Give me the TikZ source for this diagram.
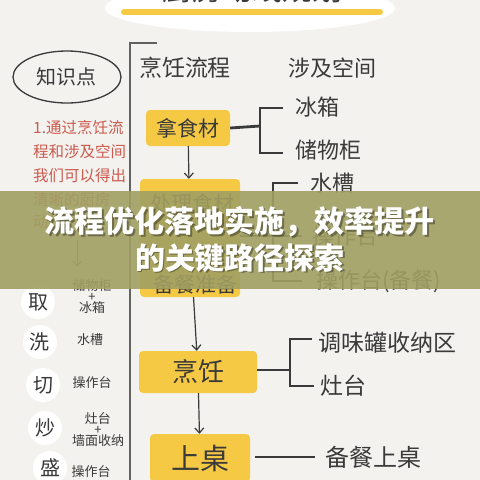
\documentclass[tikz,border=0pt]{standalone}
\usepackage{fontspec}
\setmainfont{Noto Sans CJK SC}
\usetikzlibrary{arrows.meta}
\definecolor{paper}{HTML}{F3F2EF}
\definecolor{ink}{HTML}{3A3A3A}
\definecolor{marker}{HTML}{F6C945}
\definecolor{redink}{HTML}{CC5A4E}
\definecolor{banner}{HTML}{A19F63}
\newcommand{\fs}[1]{\fontsize{#1}{#1}\selectfont}
\tikzset{
  swatch/.style={fill=marker, rounded corners=4pt, text=ink, inner sep=0pt},
  bar/.style={ink, line width=2.8pt},
  down/.style={ink, line width=1.2pt, -{Straight Barb[length=5pt,width=9pt]}},
  verb/.style={circle, fill=white, minimum size=34pt, inner sep=0pt, text=ink, font=\fs{20}},
  tag/.style={text=ink, font=\fs{13}, align=center, inner sep=0pt},
  space/.style={text=ink, font=\fs{22}, anchor=west, inner sep=0pt},
  note/.style={text=redink, font=\fs{15.5}, anchor=west, inner sep=0pt}
}
\begin{document}
\begin{tikzpicture}[x=1pt,y=-1pt]
  \clip (0,0) rectangle (480,480);
  \fill[paper] (0,0) rectangle (480,480);
  % title
  \fill[white] (250,8) ellipse (145 and 24);
  \node[text=ink, font=\fs{30}] (title) at (252,-11) {厨房动线规划};
  \draw[marker, line width=6pt, line cap=round] (124,12) -- (380,12);
  % margin line
  \draw[ink!80, line width=1.2pt] (157,43) -- (130,43) -- (130,480);
  % left column
  \draw[ink, line width=1.3pt] (67,77) ellipse (54 and 26);
  \node[text=ink, font=\fs{20}] (kp) at (66,77) {知识点};
  \node[note] (n1) at (33,128) {1.通过烹饪流};
  \node[note] (n2) at (33,152) {程和涉及空间};
  \node[note] (n3) at (33,176) {我们可以得出};
  \node[note] (n4) at (33,200) {清晰的厨房};
  \node[note] (n5) at (33,222) {动线：};
  \coordinate (nt) at (77,240);
  \coordinate (nb) at (77,266);
  \draw[ink!70, line width=0.8pt, -{Straight Barb[length=4pt,width=8pt]}] (nt) -- (nb);
  \foreach \v/\x/\y in {取/38/302, 洗/40/342, 切/43/385, 炒/45/428, 盛/50/468}
    {\node[verb] (v\y) at (\x,\y) {\v};}
  \node[tag] (t1) at (92,297) {储物柜\\[-2pt]+\\[-2pt]冰箱};
  \node[tag] (t2) at (90,340) {水槽};
  \node[tag] (t3) at (92,383) {操作台};
  \node[tag] (t4) at (98,430) {灶台\\[-2pt]+\\[-2pt]墙面收纳};
  \node[tag] (t5) at (91,472) {操作台};
  % flow column
  \node[text=ink, font=\fs{23}] (flowhead) at (185,68) {烹饪流程};
  \node[text=ink, font=\fs{22}] (spacehead) at (332,68) {涉及空间};
  \node[swatch, font=\fs{21}, minimum width=84pt, minimum height=36pt] (fetch) at (188,128) {拿食材};
  \node[swatch, minimum width=100pt, minimum height=118pt] (prep) at (190,238) {};
  \node[text=ink, font=\fs{21}] (prep1) at (192,203) {处理食材};
  \node[text=ink, font=\fs{21}] (prep2) at (195,284) {备餐准备};
  \node[swatch, font=\fs{26}, minimum width=118pt, minimum height=42pt] (cook) at (198,372) {烹饪};
  \node[swatch, font=\fs{29}, minimum width=100pt, minimum height=48pt] (serve) at (200,458) {上桌};
  \draw[down] (fetch) -- (prep);
  \draw[down] (prep) -- (cook);
  \draw[down] (cook) -- (serve);
  % spaces
  \node[space] (fridge) at (295,107) {冰箱};
  \node[space] (cab) at (295,150) {储物柜};
  \node[space] (sink) at (310,183) {水槽};
  \node[space] (bench) at (312,236) {操作台};
  \node[space] (bench2) at (316,281) {操作台(备餐)};
  \node[space, font=\fs{23}] (jars) at (318,343) {调味罐收纳区};
  \node[space, font=\fs{23}] (stove) at (320,386) {灶台};
  \node[space, font=\fs{24}] (plate) at (325,457) {备餐上桌};
  \coordinate (fk) at (260,126);
  \coordinate (pk) at (273,236);
  \coordinate (ck) at (290,370);
  \draw[bar] (fetch.east) -- (fk);
  \draw[bar] (fridge.west) ++(-12,1) -| (fk) |- ([xshift=-12pt,yshift=-3pt]cab.west);
  \draw[bar] (prep.east |- pk) -- (pk);
  \draw[bar] ([xshift=-12pt]sink.west) -| (pk) |- ([xshift=-14pt]bench2.west);
  \draw[bar] (pk) -- ([xshift=-10pt]bench.west);
  \draw[bar] (cook.east |- ck) -- (ck);
  \draw[bar] ([xshift=-6pt,yshift=4pt]jars.west) -| (ck) |- ([xshift=-6pt]stove.west);
  \draw[bar] (serve.east |- plate) ++(5,0) -- ([xshift=-10pt]plate.west);
  % banner
  \fill[banner, opacity=.9] (0,191) rectangle (480,289);
  \node[text=black, opacity=.35, font=\fs{30}\bfseries] at (241.5,223.5) {流程优化落地实施，效率提升};
  \node[text=black, opacity=.35, font=\fs{30}\bfseries] at (241.5,259.5) {的关键路径探索};
  \node[text=white, font=\fs{30}\bfseries] (head1) at (240,222) {流程优化落地实施，效率提升};
  \node[text=white, font=\fs{30}\bfseries] (head2) at (240,258) {的关键路径探索};
\end{tikzpicture}
\end{document}
